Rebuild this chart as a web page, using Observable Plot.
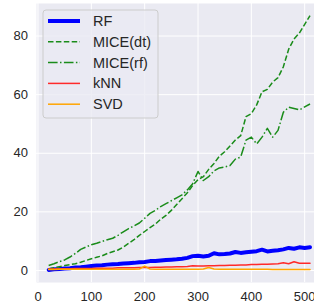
<!DOCTYPE html>
<html>
<head>
<meta charset="utf-8">
<script src="https://cdn.jsdelivr.net/npm/d3@7"></script>
<script src="https://cdn.jsdelivr.net/npm/@observablehq/plot@0.6"></script>
<style>
  html, body { margin: 0; padding: 0; background: #ffffff; }
  #chart { width: 314px; height: 305px; }
  svg { display: block; }
</style>
</head>
<body>
<div id="chart"></div>
<script>
// ---- data ----
const xs = [20,30,40,50,60,70,80,90,100,110,120,130,140,150,160,170,180,190,200,210,220,230,240,250,260,270,280,290,300,310,320,330,340,350,360,370,380,390,400,410,420,430,440,450,460,470,480,490,500,510];

const rf = [0.2,0.4,0.5,0.7,0.8,1.0,1.1,1.3,1.5,1.7,1.8,2.0,2.1,2.2,2.4,2.5,2.6,2.8,2.9,3.2,3.2,3.4,3.6,3.7,3.8,4.0,4.3,4.9,5.0,4.8,5.0,5.9,5.5,5.6,5.8,6.3,6.0,6.2,6.4,6.6,7.1,6.5,6.7,6.9,7.2,7.7,7.4,7.9,7.7,7.9];

const miceDt = [0.5,0.9,1.3,1.7,2.0,2.3,2.8,3.4,4.0,4.5,5.0,5.8,6.4,7.0,8.0,9.3,10.5,12.0,13.3,14.6,15.8,17.5,18.8,20.5,22.5,24.5,26.5,29.0,31.0,32.0,34.5,36.5,39.0,40.5,42.5,44.5,46.0,52.5,53.5,56.5,61.0,61.8,64.3,65.8,69.5,75.5,79.0,81.0,84.0,87.0];

const miceRf = [1.7,2.3,3.0,3.6,4.6,5.8,7.2,8.0,8.8,9.3,9.9,10.5,11.0,12.0,13.2,14.3,15.2,16.2,17.8,19.5,20.5,21.8,22.8,23.8,24.8,25.8,27.5,29.6,33.8,30.7,32.0,34.0,35.0,35.3,35.8,38.0,38.7,44.5,45.5,43.2,45.5,48.5,45.5,47.8,54.0,55.7,55.3,54.8,55.8,56.8];

const knn = [0.5,0.5,0.6,0.6,0.6,0.7,0.7,0.7,0.7,0.8,0.8,0.8,0.8,0.9,0.9,0.9,0.9,1.0,1.0,1.0,1.1,1.1,1.2,1.2,1.3,1.3,1.4,1.6,1.5,1.5,1.6,1.6,1.7,1.7,1.8,1.8,1.9,1.9,2.0,2.0,2.1,2.1,2.2,2.3,2.6,2.3,3.0,2.5,2.5,2.5];

const svd = [0.3,0.35,0.4,0.4,0.4,0.4,0.4,0.45,0.4,0.4,0.4,0.4,0.45,0.4,0.4,0.4,0.45,0.5,1.5,0.5,0.45,0.45,0.4,0.4,0.4,0.4,0.45,0.45,0.45,0.5,1.0,0.5,0.45,0.4,0.4,0.4,0.4,0.4,0.4,0.4,0.4,0.4,0.35,0.35,0.35,0.35,0.3,0.3,0.3,0.3];

const seriesNames = ["RF", "MICE(dt)", "MICE(rf)", "kNN", "SVD"];
const seriesValues = [rf, miceDt, miceRf, knn, svd];
const xTicks = [0, 100, 200, 300, 400, 500];
const yTicks = [0, 20, 40, 60, 80];

// ---- styles ----
const styles = {
  "RF":       {stroke: "#0000ff", width: 4,   dash: null},
  "MICE(dt)": {stroke: "#1a8c1a", width: 1.5, dash: "5.5,2.4"},
  "MICE(rf)": {stroke: "#1a8c1a", width: 1.5, dash: "9.6,2.4,1.5,2.4"},
  "kNN":      {stroke: "#ff2a2a", width: 1.5, dash: null},
  "SVD":      {stroke: "#ffa500", width: 1.5, dash: null}
};

const rows = seriesNames.map((name, i) => xs.map((x, j) => ({series: name, x, y: seriesValues[i][j]})));

const marks = [
  Plot.frame({fill: "#eaeaf2", stroke: null}),
  Plot.ruleX(xTicks, {stroke: "#ffffff", strokeWidth: 1}),
  Plot.ruleY(yTicks, {stroke: "#ffffff", strokeWidth: 1}),
  ...seriesNames.map((name, i) => {
    const s = styles[name];
    return Plot.line(rows[i], {
      x: "x", y: "y",
      stroke: s.stroke, strokeWidth: s.width,
      strokeDasharray: s.dash ?? undefined,
      strokeLinejoin: "round", strokeLinecap: s.dash ? "butt" : "round"
    });
  }),
  Plot.axisX(xTicks, {tickSize: 0, tickPadding: 9, fontSize: 13, color: "#262626", label: null}),
  Plot.axisY(yTicks, {tickSize: 0, tickPadding: 8.5, fontSize: 13, color: "#262626", label: null})
];

const chart = Plot.plot({
  width: 314,
  height: 305,
  marginLeft: 36,
  marginRight: 0,
  marginTop: 3,
  marginBottom: 23,
  x: {domain: [-2.8, 518.4]},
  y: {domain: [-4.1, 91.1]},
  style: {fontFamily: "'Liberation Sans', Arial, sans-serif", background: "#ffffff", color: "#262626"},
  marks
});

document.getElementById("chart").appendChild(chart);

// ---- legend inside the plot (upper left) ----
const svg = d3.select(chart);
const lg = svg.append("g").attr("class", "legend").attr("text-anchor", "start");
const box = {x: 43, y: 10, w: 115, h: 108};
lg.append("rect")
  .attr("x", box.x).attr("y", box.y).attr("width", box.w).attr("height", box.h)
  .attr("rx", 3).attr("ry", 3)
  .attr("fill", "#eaeaf2").attr("fill-opacity", 0.8)
  .attr("stroke", "#cccccc").attr("stroke-width", 1);
seriesNames.forEach((name, i) => {
  const s = styles[name];
  const cy = 21 + i * 20.8;
  const ln = lg.append("line")
    .attr("x1", 48).attr("x2", 80).attr("y1", cy).attr("y2", cy)
    .attr("stroke", s.stroke).attr("stroke-width", s.width);
  if (s.dash) ln.attr("stroke-dasharray", s.dash);
  lg.append("text")
    .attr("x", 93).attr("y", cy).attr("dy", "0.35em")
    .attr("text-anchor", "start")
    .attr("font-size", 14.5).attr("fill", "#262626")
    .attr("font-family", "'Liberation Sans', Arial, sans-serif")
    .text(name);
});
</script>
</body>
</html>
